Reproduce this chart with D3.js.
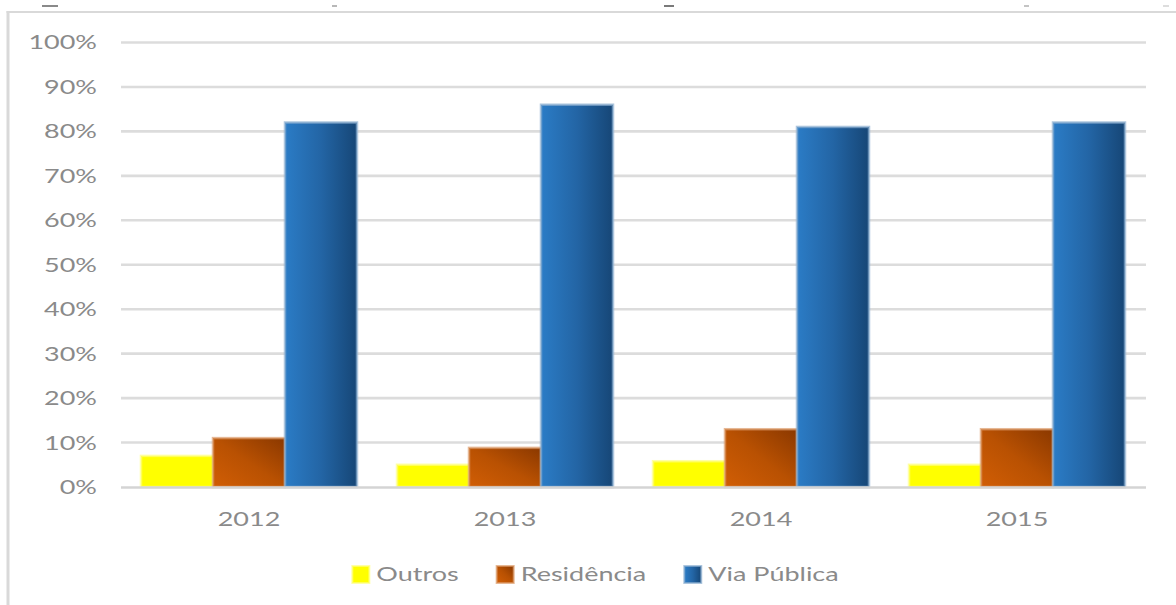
<!DOCTYPE html>
<html>
<head>
<meta charset="utf-8">
<script src="https://cdn.jsdelivr.net/npm/d3@7"></script>
<style>
  html, body { margin: 0; padding: 0; background: #ffffff; }
  svg { display: block; }
  text { font-family: Lato, "Open Sans", sans-serif; fill: #8a8a8a; }
</style>
</head>
<body>
<svg id="chart" width="1176" height="605"></svg>
<script>
// Share of occurrences by place, per year
const years = ["2012", "2013", "2014", "2015"];
const seriesNames = ["Outros", "Residência", "Via Pública"];
const outros = [0.07, 0.05, 0.058, 0.05];
const residencia = [0.11, 0.088, 0.13, 0.13];
const viaPublica = [0.82, 0.86, 0.81, 0.82];
const yTicks = [0, 0.1, 0.2, 0.3, 0.4, 0.5, 0.6, 0.7, 0.8, 0.9, 1.0];

const seriesValues = [outros, residencia, viaPublica];
const rows = years.map((yr, i) => ({
  year: yr,
  values: seriesNames.map((s, k) => ({ key: s, value: seriesValues[k][i] }))
}));

const W = 1176, H = 605;
const plot = { left: 121, right: 1145, top: 42.5, bottom: 487 };
const textScaleX = 1.42;   // wide lettering
const textColor = "#8a8a8a";

const svg = d3.select("#chart");
const defs = svg.append("defs");

// Fills
const gBlue = defs.append("linearGradient").attr("id", "gBlue")
  .attr("x1", 0).attr("y1", 0).attr("x2", 1).attr("y2", 0);
gBlue.append("stop").attr("offset", 0).attr("stop-color", "#2b7cc6");
gBlue.append("stop").attr("offset", 0.5).attr("stop-color", "#2365a5");
gBlue.append("stop").attr("offset", 1).attr("stop-color", "#164676");

const gOrange = defs.append("linearGradient").attr("id", "gOrange")
  .attr("x1", 0).attr("y1", 1).attr("x2", 1).attr("y2", 0);
gOrange.append("stop").attr("offset", 0).attr("stop-color", "#d15e05");
gOrange.append("stop").attr("offset", 0.5).attr("stop-color", "#b95102");
gOrange.append("stop").attr("offset", 1).attr("stop-color", "#8a3800");

const fills = { "Outros": "#ffff00", "Residência": "url(#gOrange)", "Via Pública": "url(#gBlue)" };
const edges = { "Outros": "#ffff80", "Residência": "#dc9a68", "Via Pública": "#8aaed0" };

// Frame
svg.append("rect").attr("x", 6.5).attr("y", 11).attr("width", W).attr("height", 2).attr("fill", "#d9d9d9");
svg.append("rect").attr("x", 6.5).attr("y", 11).attr("width", 3).attr("height", H).attr("fill", "#d9d9d9");

// Small marks along the top edge
const topMarks = [[42, 16, "#8a8a8a"], [332, 5, "#b8b8b8"], [664, 10, "#7a7a7a"], [1024, 5, "#c4c4c4"], [1163, 6, "#dddddd"]];
svg.selectAll("rect.topmark").data(topMarks).join("rect").attr("class", "topmark")
  .attr("x", d => d[0]).attr("y", 5).attr("width", d => d[1]).attr("height", 2).attr("fill", d => d[2]);

// Scales
const x0 = d3.scaleBand().domain(years).range([plot.left, plot.right]).paddingInner(0).paddingOuter(0);
const groupW = 216;
const x1 = d3.scaleBand().domain(seriesNames).range([0, groupW]).padding(0);
const y = d3.scaleLinear().domain([0, 1]).range([plot.bottom, plot.top]);

// Gridlines
svg.append("g").selectAll("line").data(yTicks.filter(t => t > 0)).join("line")
  .attr("x1", plot.left).attr("x2", plot.right + 1)
  .attr("y1", d => y(d)).attr("y2", d => y(d))
  .attr("stroke", "#dcdcdc").attr("stroke-width", 2.6);

// Y axis labels (right-aligned, horizontally stretched)
const yAxis = d3.axisLeft(y).tickValues(yTicks).tickFormat(d3.format(".0%")).tickSize(0).tickPadding(0);
const yG = svg.append("g").attr("transform", "translate(97,0)").call(yAxis);
yG.select(".domain").remove();
yG.selectAll("text")
  .attr("x", 0).attr("dy", "0.34em")
  .attr("transform", `scale(${textScaleX},1)`)
  .style("font-size", "19px").style("fill", textColor);

// Bars
const groups = svg.append("g").selectAll("g").data(rows).join("g")
  .attr("transform", d => `translate(${x0(d.year) + (x0.bandwidth() - groupW) / 2},0)`);

groups.selectAll("rect").data(d => d.values).join("rect")
  .attr("x", d => x1(d.key))
  .attr("y", d => y(d.value))
  .attr("width", x1.bandwidth())
  .attr("height", d => y(0) - y(d.value))
  .attr("fill", d => fills[d.key])
  .attr("stroke", d => edges[d.key])
  .attr("stroke-opacity", 0.7)
  .attr("stroke-width", 2.5);

// Baseline
svg.append("line")
  .attr("x1", plot.left).attr("x2", plot.right + 1)
  .attr("y1", y(0) + 0.5).attr("y2", y(0) + 0.5)
  .attr("stroke", "#d4d4d4").attr("stroke-width", 2.6);

// X axis labels
const xAxis = d3.axisBottom(x0).tickSize(0).tickPadding(0);
const xG = svg.append("g").attr("transform", `translate(0,${y(0)})`).call(xAxis);
xG.select(".domain").remove();
xG.selectAll("text")
  .attr("x", 0).attr("y", 39).attr("dy", 0)
  .attr("transform", `scale(${textScaleX},1)`)
  .style("font-size", "19px").style("fill", textColor);

// Legend
const legend = svg.append("g").attr("transform", "translate(0,574)");
const items = legend.selectAll("g").data(seriesNames).join("g");
items.append("rect")
  .attr("x", 0).attr("y", -8).attr("width", 17).attr("height", 17)
  .attr("fill", d => fills[d])
  .attr("stroke", d => edges[d]).attr("stroke-opacity", 0.7).attr("stroke-width", 2);
items.append("text")
  .attr("x", 24 / textScaleX).attr("y", 0).attr("dy", "0.36em")
  .attr("transform", `scale(${textScaleX},1)`)
  .style("font-size", "19px").style("fill", textColor)
  .text(d => d);
const widths = [];
items.each(function () {
  widths.push(24 + this.querySelector("text").getComputedTextLength() * textScaleX);
});
const gap = 38;
const total = d3.sum(widths) + gap * (widths.length - 1);
let cursor = 595.5 - total / 2;
items.attr("transform", (d, i) => {
  const t = `translate(${cursor},0)`;
  cursor += widths[i] + gap;
  return t;
});
</script>
</body>
</html>
